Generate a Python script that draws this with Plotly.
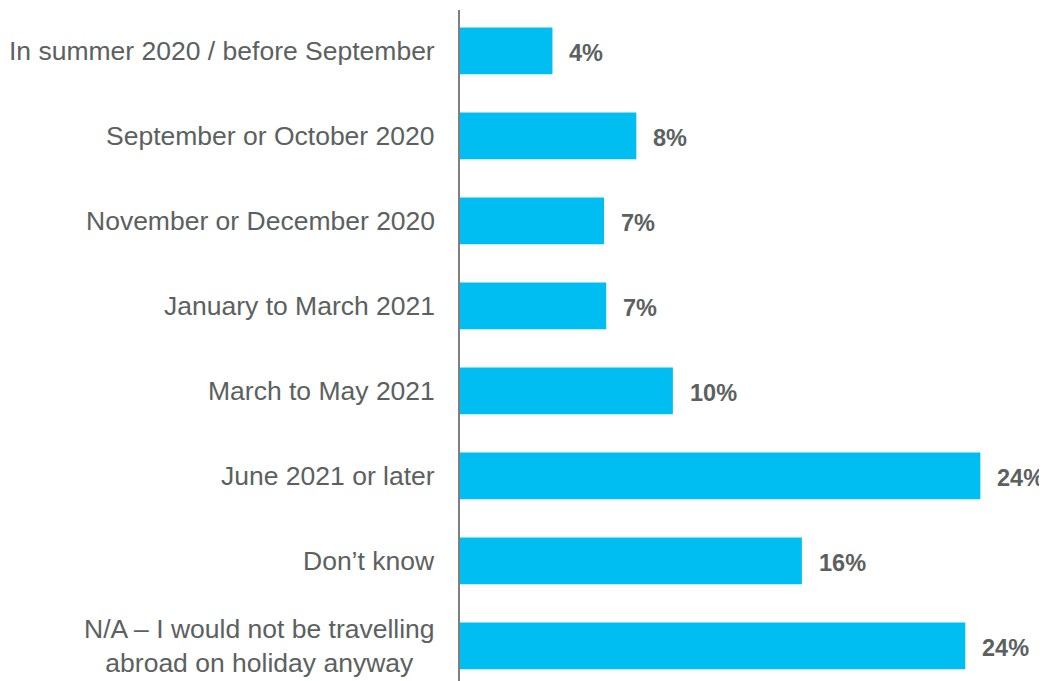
import plotly.graph_objects as go

categories = [
    "In summer 2020 / before September",
    "September or October 2020",
    "November or December 2020",
    "January to March 2021",
    "March to May 2021",
    "June 2021 or later",
    "Don\u2019t know",
    "N/A \u2013 I would not be travelling<br>abroad on holiday anyway",
]
values = [4.3, 8.2, 6.7, 6.8, 9.9, 24.2, 15.9, 23.5]
labels = ["4%", "8%", "7%", "7%", "10%", "24%", "16%", "24%"]

BAR = "#00BDF2"
TXT = "#5b6160"

fig = go.Figure()
fig.add_trace(go.Bar(
    x=values, y=categories, orientation="h",
    marker=dict(color=BAR, line=dict(width=0)),
    width=0.55, hoverinfo="skip",
))

for v, c, t in zip(values, categories, labels):
    fig.add_annotation(
        x=v, y=c, xref="x", yref="y", text=t, showarrow=False,
        xanchor="left", yanchor="middle", xshift=15, yshift=-2,
        font=dict(family="Liberation Sans, Arial", size=23.5, color=TXT, weight="bold"),
    )

for c in categories:
    fig.add_annotation(
        x=0, y=c, xref="x", yref="y", text=c, showarrow=False,
        xanchor="right", yanchor="middle", align="center", xshift=-23,
        font=dict(family="Liberation Sans, Arial", size=26.5, color=TXT),
    )

fig.update_layout(
    width=1039, height=673,
    margin=dict(l=452, r=0, t=2, b=0),
    plot_bgcolor="white", paper_bgcolor="white",
    showlegend=False,
    xaxis=dict(range=[0, 27.3], visible=False, fixedrange=True),
    yaxis=dict(
        type="category", range=[7.412, -0.482],
        showline=True, linecolor="#7f7f7f", linewidth=2,
        showticklabels=False, showgrid=False, zeroline=False, ticks="",
    ),
)

fig.write_html("out.html")
